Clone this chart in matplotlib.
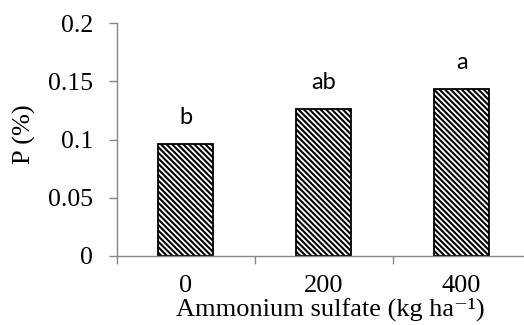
import matplotlib
matplotlib.use("Agg")
import matplotlib.pyplot as plt
from matplotlib.ticker import FixedLocator, NullFormatter

categories = ["0", "200", "400"]
values = [0.096, 0.1265, 0.1435]
letters = ["b", "ab", "a"]
yticks = [0, 0.05, 0.1, 0.15, 0.2]
ytick_labels = ["0", "0.05", "0.1", "0.15", "0.2"]

plt.rcParams['hatch.linewidth'] = 1.5
plt.rcParams['hatch.color'] = 'black'

fig = plt.figure(figsize=(5.24, 3.25), dpi=100)
ax = fig.add_axes([0.2227, 0.2132, 0.79, 0.7151])

x = list(range(len(categories)))
ax.bar(x, values, width=0.40, color='white', edgecolor='black', linewidth=1.3,
       hatch='\\' * 6)

for xi, v, t in zip(x, values, letters):
    ax.text(xi, v + 0.0135, t, ha='center', va='bottom', fontsize=17,
            family=['Lato', 'DejaVu Sans'])

ax.set_xlim(-0.5, 2.5)
ax.set_ylim(0, 0.2)
ax.set_yticks(yticks)
ax.set_yticklabels(ytick_labels, family='Liberation Serif', fontsize=18.5)
ax.set_xticks(x)
ax.set_xticklabels(categories, family='Liberation Serif', fontsize=19)
ax.tick_params(axis='x', which='major', length=0, pad=14)
ax.xaxis.set_minor_locator(FixedLocator([-0.5, 0.5, 1.5, 2.5]))
ax.xaxis.set_minor_formatter(NullFormatter())
ax.tick_params(axis='x', which='minor', length=5.5, color='#868686', width=1)
ax.tick_params(axis='y', length=6, color='#868686', width=1, pad=11)

for s in ['top', 'right']:
    ax.spines[s].set_visible(False)
for s in ['left', 'bottom']:
    ax.spines[s].set_color('#868686')
    ax.spines[s].set_linewidth(1)

fig.text(330 / 524, 9 / 325, 'Ammonium sulfate (kg ha\u207b\u00b9)',
         family=['Liberation Serif', 'DejaVu Serif'], fontsize=19,
         ha='center', va='baseline')
ax.set_ylabel('P (%)', family='Liberation Serif', fontsize=19)
ax.yaxis.set_label_coords(-0.195, 0.524)

fig.savefig('out.png', dpi=100)
